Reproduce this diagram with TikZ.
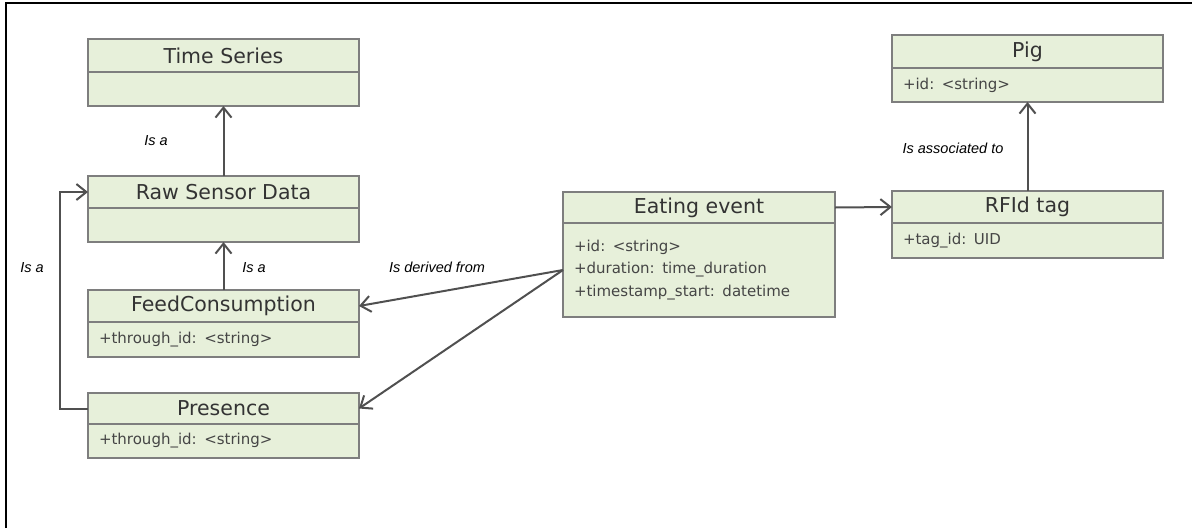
\documentclass[tikz,border=0pt]{standalone}
\usepackage{fontspec}
\setmainfont{DejaVu Sans}
\newfontfamily\labelfont{Liberation Sans}
\usetikzlibrary{arrows.meta}
\definecolor{classfill}{HTML}{E7F0DA}
\definecolor{classedge}{HTML}{7E7E7E}
\definecolor{titletext}{HTML}{333333}
\definecolor{attrtext}{HTML}{454545}
\definecolor{linkgray}{HTML}{505050}
\tikzset{
  classhead/.style={draw=classedge, fill=classfill, line width=1.3pt,
    minimum width=271pt, minimum height=#1, inner sep=0pt, outer sep=0pt,
    anchor=north west, text=titletext, font=\fontsize{20.5}{24}\selectfont},
  classhead/.default=32pt,
  classbody/.style={draw=classedge, fill=classfill, line width=1.3pt,
    minimum width=271pt, minimum height=#1, text width=249pt, align=left,
    inner xsep=11pt, inner ysep=0pt, outer sep=0pt, anchor=north west,
    text=attrtext, font=\fontsize{15}{22.5}\selectfont},
  classbody/.default=34pt,
  rel/.style={draw=linkgray, line width=2pt,
    -{Straight Barb[length=10pt,width=16pt]}},
  rellabel/.style={inner sep=0pt, text=black,
    font=\labelfont\itshape\fontsize{14.5}{17}\selectfont}
}
\begin{document}
\begin{tikzpicture}[x=1pt,y=-1pt]
\useasboundingbox (0,0) rectangle (1192,528);
% page frame (runs off the right and bottom)
\draw[line width=2pt, black] (6,528) -- (6,3) -- (1192,3);

% classes: header node + attribute node
\node[classhead=33pt] (tsh) at (88,39) {Time Series};
\node[classbody] (tsb) at (tsh.south west) {};

\node[classhead] (rawh) at (88,176) {Raw Sensor Data};
\node[classbody] (rawb) at (rawh.south west) {};

\node[classhead] (feedh) at (88,290) {FeedConsumption};
\node[classbody=35pt] (feedb) at (feedh.south west) {+through\_id: <string>};

\node[classhead=31pt] (presh) at (88,393) {Presence};
\node[classbody] (presb) at (presh.south west) {+through\_id: <string>};

\node[classhead=31pt, minimum width=272pt] (eath) at (563,192) {Eating event};
\node[classbody=94pt, minimum width=272pt, text width=250pt] (eatb) at (eath.south west)
  {+id: <string>\\+duration: time\_duration\\+timestamp\_start: datetime};

\node[classhead] (rfidh) at (892,191) {RFId tag};
\node[classbody=35pt] (rfidb) at (rfidh.south west) {+tag\_id: UID};

\node[classhead=33pt] (pigh) at (892,35) {Pig};
\node[classbody] (pigb) at (pigh.south west) {+id: <string>};

% relations
\draw[rel] (rawh.north) -- (tsb.south);
\draw[rel] (feedh.north) -- (rawb.south);
\draw[rel] (presh.west) -- ++(-28,0) |- (rawh.west);
\draw[rel] (eatb.west) -- (feedh.east);
\draw[rel] (eatb.west) -- (presh.east);
\draw[rel] (eath.east) -- (rfidh.west);
\draw[rel] (rfidh.north) -- (pigb.south);

% relation labels
\node[rellabel] (l1) at (156,141) {Is a};
\node[rellabel] (l2) at (254,268) {Is a};
\node[rellabel] (l3) at (32,268) {Is a};
\node[rellabel] (l4) at (437,267) {Is derived from};
\node[rellabel] (l5) at (953,148) {Is associated to};
\end{tikzpicture}
\end{document}
